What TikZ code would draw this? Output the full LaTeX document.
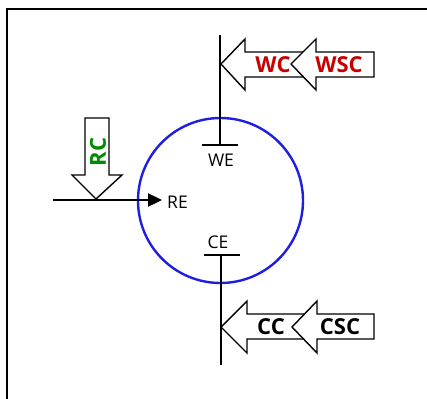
\documentclass[tikz,border=0pt]{standalone}
\usepackage{fontspec}
\setmainfont{Open Sans}
\usetikzlibrary{arrows.meta}
\definecolor{cred}{RGB}{200,0,0}
\definecolor{cgreen}{RGB}{0,140,0}
\definecolor{cblue}{RGB}{30,30,225}
\begin{document}
\begin{tikzpicture}[x=1pt,y=-1pt,
  frame/.style={line width=2pt},
  wire/.style={line width=2.4pt},
  bigarrow/.style={draw=black,fill=white,line width=1.4pt,line join=miter},
  lbl/.style={font=\fontsize{17.5}{17.5}\selectfont,inner sep=0pt},
  blbl/.style={font=\bfseries\fontsize{22}{22}\selectfont,inner sep=0pt}]
\useasboundingbox (0,0) rectangle (427,398);
% frame
\coordinate (f1) at (7,410);
\coordinate (f2) at (7,9);
\coordinate (f3) at (440,9);
\draw[frame] (f1) -- (f2) -- (f3);
% circle
\node[draw=cblue,line width=2.4pt,circle,minimum size=165pt,inner sep=0pt] (cell) at (220.5,200.5) {};
% WE electrode
\coordinate (wtop) at (220,35);
\coordinate (wend) at (220,145);
\coordinate (wl) at (202,145);
\coordinate (wr) at (238,145);
\draw[wire] (wtop) -- (wend);
\draw[wire] (wl) -- (wr);
\node[lbl] (WE) at (221,160) {WE};
% CE electrode
\coordinate (cbot) at (221,365);
\coordinate (cend) at (221,255);
\coordinate (cl) at (204,255);
\coordinate (cr) at (240,255);
\draw[wire] (cbot) -- (cend);
\draw[wire] (cl) -- (cr);
\node[lbl] (CE) at (218,242) {CE};
% RE
\coordinate (rstart) at (53,200);
\coordinate (rtip) at (162,200);
\node[lbl,anchor=west] (RE) at (167,202) {RE};
\draw[wire,-{Triangle[length=14pt,width=13pt]}] (rstart) -- (rtip);
% arrows
\draw[bigarrow] (221,64) -- (245,39) -- (245,52) -- (310,52) -- (310,77) -- (245,77) -- (245,90) -- cycle;
\draw[bigarrow] (291,64) -- (316,39) -- (316,52) -- (374,52) -- (374,77) -- (316,77) -- (316,90) -- cycle;
\draw[bigarrow] (221,327) -- (247,301) -- (247,314) -- (310,314) -- (310,339) -- (247,339) -- (247,353) -- cycle;
\draw[bigarrow] (292,327) -- (317,301) -- (317,314) -- (374,314) -- (374,339) -- (317,339) -- (317,353) -- cycle;
\draw[bigarrow] (96,199) -- (72,175) -- (85,175) -- (85,118) -- (109,118) -- (109,175) -- (122,175) -- cycle;
\node[blbl,text=cred] (WC) at (273,65) {WC};
\node[blbl,text=cred] (WSC) at (339,65) {WSC};
\node[blbl] (CC) at (271,327) {CC};
\node[blbl] (CSC) at (340,327) {CSC};
\node[blbl,text=cgreen,rotate=90] (RC) at (98,152) {RC};
\end{tikzpicture}
\end{document}
